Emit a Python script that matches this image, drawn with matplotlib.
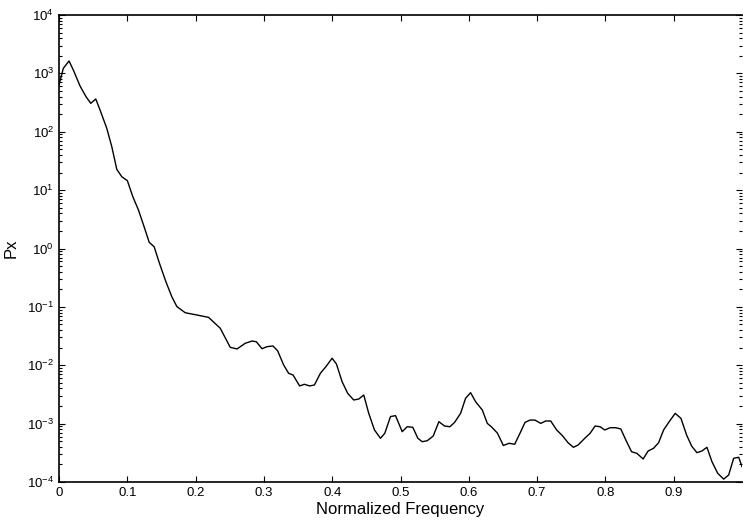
import matplotlib.pyplot as plt
import numpy as np

plt.rcParams['font.family'] = ['Liberation Sans', 'DejaVu Sans']
plt.rcParams['mathtext.fontset'] = 'custom'
plt.rcParams['mathtext.rm'] = 'Liberation Sans'
plt.rcParams['mathtext.default'] = 'regular'

# values
freq = [0.0, 0.0063, 0.0147, 0.021, 0.0308, 0.0396, 0.0465, 0.0538, 0.0601, 0.0699,
        0.0773, 0.0846, 0.0919, 0.1001, 0.1081, 0.1163, 0.1246, 0.132, 0.1393, 0.1471,
        0.1565, 0.1652, 0.1726, 0.1848, 0.2019, 0.2189, 0.2361, 0.2507, 0.2606, 0.2727,
        0.2826, 0.2889, 0.2972, 0.3045, 0.3133, 0.3201, 0.3289, 0.3362, 0.3427, 0.3523,
        0.3592, 0.367, 0.3739, 0.3827, 0.3915, 0.3999, 0.4062, 0.4145, 0.4227, 0.4315,
        0.4389, 0.4462, 0.4535, 0.4619, 0.4707, 0.477, 0.4853, 0.4927, 0.5025, 0.5098,
        0.518, 0.5254, 0.5318, 0.5391, 0.5479, 0.5562, 0.5645, 0.5723, 0.5792, 0.588,
        0.5953, 0.6026, 0.61, 0.6198, 0.6271, 0.6334, 0.6418, 0.6506, 0.6588, 0.6672,
        0.6749, 0.6823, 0.6896, 0.6969, 0.7053, 0.7126, 0.7199, 0.7287, 0.7371, 0.7453,
        0.7532, 0.76, 0.7688, 0.7776, 0.7849, 0.7922, 0.7991, 0.8069, 0.8152, 0.8226,
        0.8299, 0.8383, 0.846, 0.8553, 0.8626, 0.8705, 0.8779, 0.8852, 0.8934, 0.9022,
        0.9106, 0.9189, 0.9262, 0.934, 0.9413, 0.9487, 0.956, 0.9644, 0.9732, 0.9805,
        0.9878, 0.9952, 1.0]
px = [630, 1220, 1630, 1140, 608, 398, 307, 364, 236, 115,
      55.5, 22.7, 17.0, 14.5, 7.71, 4.57, 2.36, 1.28, 1.07, 0.557,
      0.270, 0.149, 0.101, 0.0794, 0.0726, 0.0662, 0.0430, 0.0203, 0.0190, 0.0238,
      0.0260, 0.0253, 0.0192, 0.0208, 0.0214, 0.0177, 0.0101, 0.00728, 0.00681, 0.00442,
      0.00472, 0.00442, 0.00459, 0.00728, 0.0097, 0.0132, 0.0105, 0.00523, 0.0033, 0.00254,
      0.00264, 0.00309, 0.0015, 0.000778, 0.000561, 0.000683, 0.00132, 0.00137, 0.000728, 0.000885,
      0.000865, 0.000561, 0.00049, 0.000509, 0.000614, 0.00108, 0.00091, 0.000885, 0.00105, 0.0015,
      0.00272, 0.00339, 0.00237, 0.00171, 0.00101, 0.000875, 0.00069, 0.000422, 0.00046, 0.000443,
      0.000683, 0.00105, 0.00115, 0.00115, 0.00101, 0.00111, 0.00111, 0.000778, 0.000621, 0.000471,
      0.000393, 0.00043, 0.000546, 0.000683, 0.00091, 0.000885, 0.000778, 0.000851, 0.000851, 0.000809,
      0.000524, 0.00033, 0.00031, 0.000248, 0.00034, 0.000378, 0.000471, 0.000778, 0.00108, 0.0015,
      0.00123, 0.000638, 0.000414, 0.000318, 0.00034, 0.000393, 0.000223, 0.000141, 0.000112, 0.000132,
      0.000255, 0.000265, 0.000183]

xticks = [0, 0.1, 0.2, 0.3, 0.4, 0.5, 0.6, 0.7, 0.8, 0.9]
xticklabels = ["0", "0.1", "0.2", "0.3", "0.4", "0.5", "0.6", "0.7", "0.8", "0.9"]

fig = plt.figure(figsize=(7.43, 5.29), dpi=100)
ax = fig.add_axes([59 / 743, 1 - 482 / 529, 683 / 743, 467 / 529])

ax.semilogy(freq, px, color="black", linewidth=1.0)
ax.set_xlim(0, 1)
ax.set_ylim(1e-4, 1e4)
ax.set_xticks(xticks)
ax.set_xticklabels(xticklabels)
ax.set_yticks([10.0 ** k for k in range(-4, 5)])

ax.tick_params(which="both", direction="in", top=True, right=True, labelsize=9.5, width=0.8)
ax.tick_params(which="major", length=4)
ax.tick_params(which="minor", length=2)
ax.tick_params(axis="x", which="minor", top=False, bottom=False)
ax.spines["right"].set_visible(False)
for s in ["left", "bottom", "top"]:
    ax.spines[s].set_linewidth(1.2)

ax.set_xlabel("Normalized Frequency", fontsize=12, labelpad=2)
ax.set_ylabel("Px", fontsize=12, labelpad=6)

fig.savefig("out.png", dpi=100)
